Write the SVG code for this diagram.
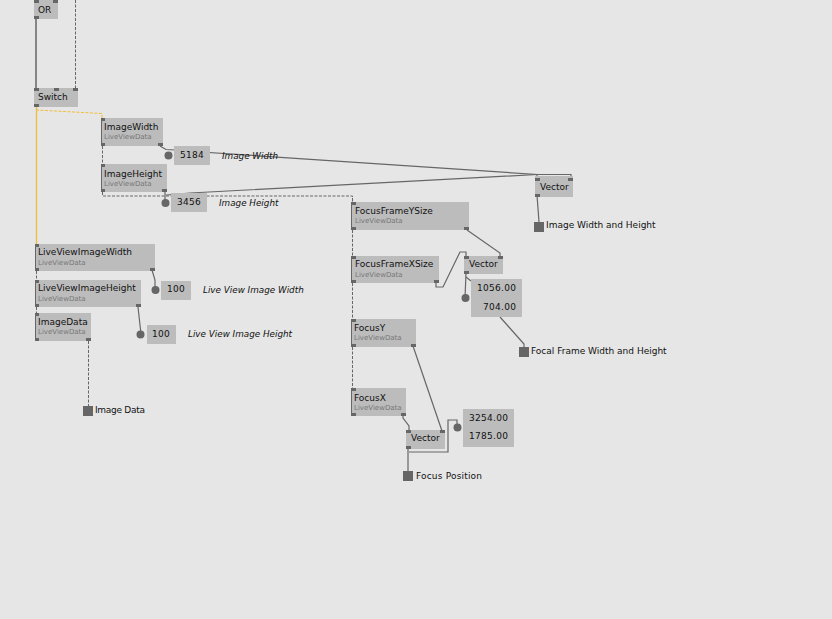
<svg xmlns="http://www.w3.org/2000/svg" width="832" height="619" viewBox="0 0 832 619">
<style>
.b{fill:#bcbcbc}
.p{fill:#666}
.n{fill:#666;height:3px}
.e{fill:#666}
.t{font:9px "DejaVu Sans",sans-serif;fill:#111}
.v{font:9px "DejaVu Sans",sans-serif;fill:#111;letter-spacing:.3px}
.s{font:7px "DejaVu Sans",sans-serif;fill:#777}
.i{font:italic 8.800px "DejaVu Sans",sans-serif;fill:#111}
.c{fill:none;stroke:#666;stroke-width:1.200}
.g{fill:none;stroke:#666;stroke-width:1;stroke-dasharray:3 1.500}
.y{fill:none;stroke:#f2bd3a;stroke-width:1.300}
.yd{fill:none;stroke:#f2bd3a;stroke-width:1;stroke-dasharray:3 1.500}
</style>
<rect width="832" height="619" fill="#e6e6e6"/>
<g id="connectors">
<path class="c" d="M36 19V88" style="stroke-width:1.500"/>
<path class="g" d="M75.500 0V88"/>
<path class="y" d="M36.500 107V244"/>
<path class="yd" d="M36 110L102 113.500V118"/>
<path class="g" d="M102.500 146V164"/>
<path class="g" d="M102.500 192V196H352.500V202"/>
<path class="g" d="M352.500 198V202M352.500 230V256M352.500 283V319M352.500 347V388"/>
<path class="g" d="M36.500 271V280M36.500 307V313"/>
<path class="c" d="M160 146L166 149.500L175 150L186 151L537 174.500V176"/>
<path class="c" d="M165 192V203"/>
<path class="c" d="M166 195L190 193L537 174.500H571V177"/>
<path class="c" d="M152 270L155 280V291"/>
<path class="c" d="M138 307L141 334"/>
<path class="g" d="M88.500 341V406"/>
<path class="c" d="M537 195L539 222"/>
<path class="c" d="M467 230L500 253V257"/>
<path class="c" d="M436 282V287H443L460 252H466V257"/>
<path class="c" d="M466 273L465 298"/>
<path class="c" d="M466 277L471 281"/>
<path class="c" d="M500 317L524 344V347"/>
<path class="c" d="M413 346L442 431"/>
<path class="c" d="M403 415V418L409 426V431"/>
<path class="c" d="M408 448V471"/>
<path class="c" d="M409 452H448V420H457V427"/>
</g>
<g id="or"><rect class="b" x="34" y="0" width="24" height="19"/><rect class="n" x="34" y="0" width="5"/><rect class="n" x="53" y="0" width="5"/><rect class="n" x="34" y="16" width="5"/><text class="t" x="38" y="13">OR</text></g>
<g id="switch"><rect class="b" x="34" y="88" width="44" height="19"/><rect class="n" x="34" y="88" width="5"/><rect class="n" x="54" y="88" width="5"/><rect class="n" x="73" y="88" width="5"/><rect class="n" x="34" y="104" width="5"/><text class="t" x="38" y="100">Switch</text></g>
<g id="imagewidth"><rect class="b" x="101" y="118" width="62" height="28"/><rect class="n" x="101" y="118" width="4"/><rect class="n" x="101" y="143" width="4"/><rect class="n" x="158" y="143" width="5"/><rect class="p" x="101" y="118" width="1" height="28"/><text class="t" x="104" y="130">ImageWidth</text><text class="s" x="104" y="139">LiveViewData</text></g>
<g id="imageheight"><rect class="b" x="101" y="164" width="66" height="28"/><rect class="n" x="101" y="164" width="4"/><rect class="n" x="101" y="189" width="4"/><rect class="n" x="162" y="189" width="5"/><rect class="p" x="101" y="164" width="1" height="28"/><text class="t" x="104" y="177">ImageHeight</text><text class="s" x="104" y="186">LiveViewData</text></g>
<g id="value-5184"><circle class="e" cx="168.500" cy="155.500" r="4"/><rect class="b" x="174" y="146" width="36" height="19"/><text class="v" x="180" y="158">5184</text></g>
<g id="value-3456"><circle class="e" cx="165.500" cy="203" r="4"/><rect class="b" x="171" y="193" width="36" height="19"/><text class="v" x="177" y="205">3456</text></g>
<g id="label-image-width"><text class="i" x="222" y="159">Image Width</text></g>
<g id="label-image-height"><text class="i" x="219" y="206">Image Height</text></g>
<g id="liveviewimagewidth"><rect class="b" x="35" y="244" width="120" height="27"/><rect class="n" x="35" y="244" width="4"/><rect class="n" x="35" y="268" width="4"/><rect class="n" x="150" y="268" width="5"/><rect class="p" x="35" y="244" width="1" height="27"/><text class="t" x="38" y="255">LiveViewImageWidth</text><text class="s" x="38" y="265">LiveViewData</text></g>
<g id="liveviewimageheight"><rect class="b" x="35" y="280" width="106" height="27"/><rect class="n" x="35" y="280" width="4"/><rect class="n" x="35" y="304" width="4"/><rect class="n" x="136" y="304" width="5"/><rect class="p" x="35" y="280" width="1" height="27"/><text class="t" x="38" y="291">LiveViewImageHeight</text><text class="s" x="38" y="301">LiveViewData</text></g>
<g id="imagedata"><rect class="b" x="35" y="313" width="56" height="28"/><rect class="n" x="35" y="313" width="4"/><rect class="n" x="35" y="338" width="4"/><rect class="n" x="86" y="338" width="5"/><rect class="p" x="35" y="313" width="1" height="28"/><text class="t" x="38" y="325">ImageData</text><text class="s" x="38" y="334">LiveViewData</text></g>
<g id="value-100a"><circle class="e" cx="155.500" cy="290" r="4"/><rect class="b" x="161" y="281" width="30" height="19"/><text class="v" x="167" y="292">100</text></g>
<g id="value-100b"><circle class="e" cx="140.500" cy="334.500" r="4"/><rect class="b" x="147" y="325" width="29" height="19"/><text class="v" x="152" y="337">100</text></g>
<g id="label-lv-width"><text class="i" x="203" y="293">Live View Image Width</text></g>
<g id="label-lv-height"><text class="i" x="188" y="337">Live View Image Height</text></g>
<g id="out-image-data"><rect class="p" x="83" y="406" width="10" height="10"/><text class="t" x="95" y="413" textLength="50">Image Data</text></g>
<g id="focusframeysize"><rect class="b" x="352" y="202" width="117" height="28"/><rect class="n" x="351" y="202" width="5"/><rect class="n" x="351" y="227" width="5"/><rect class="n" x="464" y="227" width="5"/><rect class="p" x="351" y="202" width="1" height="28"/><text class="t" x="355" y="214">FocusFrameYSize</text><text class="s" x="355" y="223">LiveViewData</text></g>
<g id="focusframexsize"><rect class="b" x="352" y="256" width="87" height="27"/><rect class="n" x="351" y="256" width="5"/><rect class="n" x="351" y="280" width="5"/><rect class="n" x="434" y="280" width="5"/><rect class="p" x="351" y="256" width="1" height="27"/><text class="t" x="355" y="267">FocusFrameXSize</text><text class="s" x="355" y="277">LiveViewData</text></g>
<g id="focusy"><rect class="b" x="352" y="319" width="64" height="28"/><rect class="n" x="351" y="319" width="5"/><rect class="n" x="351" y="344" width="5"/><rect class="n" x="411" y="344" width="5"/><rect class="p" x="351" y="319" width="1" height="28"/><text class="t" x="354" y="331">FocusY</text><text class="s" x="354" y="340">LiveViewData</text></g>
<g id="focusx"><rect class="b" x="352" y="388" width="54" height="28"/><rect class="n" x="351" y="388" width="5"/><rect class="n" x="351" y="413" width="5"/><rect class="n" x="401" y="413" width="5"/><rect class="p" x="351" y="388" width="1" height="28"/><text class="t" x="354" y="401">FocusX</text><text class="s" x="354" y="410">LiveViewData</text></g>
<g id="vector-top"><rect class="b" x="535" y="176" width="38" height="21"/><rect class="n" x="535" y="178" width="5"/><rect class="n" x="568" y="178" width="5"/><rect class="n" x="535" y="194" width="5"/><text class="t" x="540" y="190">Vector</text></g>
<g id="out-image-wh"><rect class="p" x="534" y="222" width="10" height="10"/><text class="t" x="546" y="228">Image Width and Height</text></g>
<g id="vector-frame"><rect class="b" x="464" y="256" width="39" height="18"/><rect class="n" x="464" y="256" width="5"/><rect class="n" x="498" y="256" width="5"/><rect class="n" x="464" y="271" width="5"/><text class="t" x="469" y="267">Vector</text></g>
<g id="value-frame"><circle class="e" cx="465.500" cy="298" r="4"/><rect class="b" x="471" y="279" width="51" height="38"/><text class="v" x="477" y="291">1056.00</text><text class="v" x="483" y="310">704.00</text></g>
<g id="out-focal"><rect class="p" x="519" y="347" width="10" height="10"/><text class="t" x="531" y="354">Focal Frame Width and Height</text></g>
<g id="vector-focus"><rect class="b" x="406" y="430" width="39" height="19"/><rect class="n" x="406" y="430" width="5"/><rect class="n" x="440" y="430" width="5"/><rect class="n" x="406" y="446" width="5"/><text class="t" x="411" y="441">Vector</text></g>
<g id="value-focus"><circle class="e" cx="457.500" cy="427.500" r="4"/><rect class="b" x="463" y="409" width="51" height="38"/><text class="v" x="469" y="421">3254.00</text><text class="v" x="469" y="439">1785.00</text></g>
<g id="out-focus"><rect class="p" x="403" y="471" width="10" height="10"/><text class="t" x="416" y="479" textLength="66">Focus Position</text></g>
</svg>
